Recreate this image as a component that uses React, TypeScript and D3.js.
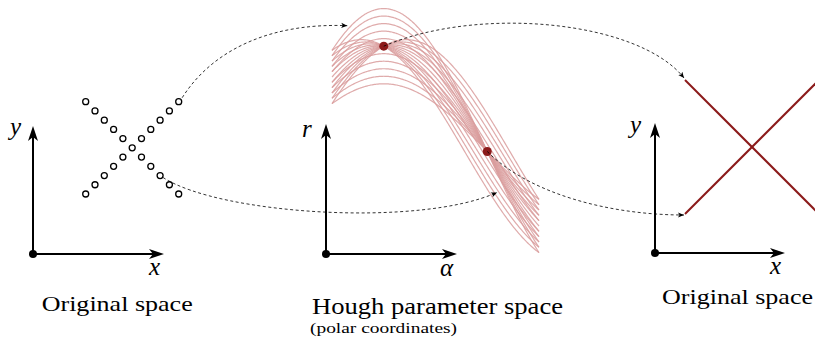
import * as d3 from 'd3'

// sample points in the original space: two crossing rows
const pointsX = [9, 10, 11, 12, 13, 14, 15, 16, 17, 18, 19, 9, 10, 11, 12, 13, 15, 16, 17, 18, 19]
const pointsY = [19, 18, 17, 16, 15, 14, 13, 12, 11, 10, 9, 9, 10, 11, 12, 13, 15, 16, 17, 18, 19]

// accumulator peaks found in Hough space (theta in degrees, r)
const peakTheta = [45, 135]
const peakR = [19.8, 0]

// theta samples for the sinusoids
const thetaSamples = d3.range(0, 181, 1)

const W = 815
const H = 341
const SERIF = 'Liberation Serif'
const DARK_RED = '#8b1a1a'

// scales
const xOrig = d3.scaleLinear().domain([9, 19]).range([85.7, 178.7])
const yOrig = d3.scaleLinear().domain([9, 19]).range([194, 101.7])
const thetaScale = d3.scaleLinear().domain([0, 180]).range([332, 539])
const rScale = d3.scaleLinear().domain([0, 20]).range([151.5, 45.1])
const xRight = d3.scaleLinear().domain([9, 19]).range([685, 819])
const yRight = d3.scaleLinear().domain([9, 19]).range([214, 80])

const rad = (deg: number) => (deg * Math.PI) / 180
const houghR = (x: number, y: number, deg: number) =>
    x * Math.cos(rad(deg)) + y * Math.sin(rad(deg))

function Axes({
    ox,
    oy,
    w,
    h,
    xLabel,
    yLabel,
    xl,
    yl,
}: {
    ox: number
    oy: number
    w: number
    h: number
    xLabel: string
    yLabel: string
    xl: [number, number]
    yl: [number, number]
}) {
    const head = 'M0,0 L-15,-5 L-11,0 L-15,5 Z'
    return (
        <g>
            <line x1={ox} y1={oy} x2={ox + w - 10} y2={oy} stroke="black" strokeWidth={2} />
            <line x1={ox} y1={oy} x2={ox} y2={oy - h + 10} stroke="black" strokeWidth={2} />
            <path d={head} transform={`translate(${ox + w},${oy})`} fill="black" />
            <path d={head} transform={`translate(${ox},${oy - h}) rotate(-90)`} fill="black" />
            <circle cx={ox} cy={oy} r={4} fill="black" />
            <text x={xl[0]} y={xl[1]} fontFamily={SERIF} fontStyle="italic" fontSize={25}>
                {xLabel}
            </text>
            <text x={yl[0]} y={yl[1]} fontFamily={SERIF} fontStyle="italic" fontSize={25}>
                {yLabel}
            </text>
        </g>
    )
}

export default function App() {
    const curve = d3
        .line<number>()
        .x((t) => thetaScale(t))
        .curve(d3.curveBasis)

    const dashed = {
        fill: 'none',
        stroke: 'black',
        strokeWidth: 0.8,
        strokeDasharray: '3,2.5',
        markerEnd: 'url(#tip)',
    }

    // arrow anchors taken from the data
    const a1s = [xOrig(19) + 3.5, yOrig(19) - 4]
    const a1e = [thetaScale(15) - 2, rScale(houghR(19, 19, 15)) - 2]
    const a3s = [xOrig(17) + 3, yOrig(11) + 2]
    const a3e = [thetaScale(143.5), rScale(houghR(17, 11, 143.5)) + 3]
    const p1 = [thetaScale(peakTheta[0]), rScale(peakR[0])]
    const p2 = [thetaScale(peakTheta[1]), rScale(peakR[1])]
    const lineY = (x: number, i: number) =>
        (peakR[i] - x * Math.cos(rad(peakTheta[i]))) / Math.sin(rad(peakTheta[i]))
    const r1s = [xRight(9) - 1, yRight(lineY(9, 0)) - 2]
    const r2s = [xRight(9) - 1, yRight(lineY(9, 1)) + 1]

    return (
        <svg
            width={W}
            height={H}
            style={{ position: 'absolute', left: 0, top: 0, background: 'white' }}
        >
            <defs>
                <marker
                    id="tip"
                    viewBox="-6 -3 7 6"
                    refX={0}
                    refY={0}
                    markerWidth={7}
                    markerHeight={6}
                    markerUnits="userSpaceOnUse"
                    orient="auto"
                >
                    <path d="M0,0 L-6,-2.6 L-4.5,0 L-6,2.6 Z" fill="black" />
                </marker>
            </defs>

            {/* left: original space */}
            <Axes ox={33} oy={254} w={164 - 33} h={254 - 126} xLabel="x" yLabel="y" xl={[149, 275]} yl={[10, 135]} />
            {pointsX.map((x, i) => (
                <circle
                    key={i}
                    cx={xOrig(x)}
                    cy={yOrig(pointsY[i])}
                    r={3}
                    fill="white"
                    stroke="black"
                    strokeWidth={1.3}
                />
            ))}

            {/* middle: Hough space */}
            <Axes ox={326} oy={254} w={457 - 326} h={254 - 124} xLabel="α" yLabel="r" xl={[440, 276]} yl={[302, 137]} />
            <g fill="none" stroke="#d99c9c" strokeWidth={1.2} strokeOpacity={0.85}>
                {pointsX.map((x, i) => (
                    <path
                        key={i}
                        d={curve.y((t) => rScale(houghR(x, pointsY[i], t)))(thetaSamples) ?? ''}
                    />
                ))}
            </g>
            {peakTheta.map((t, i) => (
                <circle key={i} cx={thetaScale(t)} cy={rScale(peakR[i])} r={4.5} fill={DARK_RED} />
            ))}

            {/* right: detected lines */}
            <Axes ox={655} oy={253} w={785 - 655} h={253 - 123} xLabel="x" yLabel="y" xl={[770, 274]} yl={[630, 133]} />
            {peakTheta.map((_, i) => (
                <line
                    key={i}
                    x1={xRight(9)}
                    y1={yRight(lineY(9, i))}
                    x2={xRight(19)}
                    y2={yRight(lineY(19, i))}
                    stroke={DARK_RED}
                    strokeWidth={2}
                />
            ))}

            {/* dashed connectors */}
            <path
                {...dashed}
                d={`M${a1s[0]},${a1s[1]} C${a1s[0] + 33},${a1s[1] - 52} ${a1e[0] - 70},${a1e[1] - 3} ${a1e[0]},${a1e[1]}`}
            />
            <path
                {...dashed}
                d={`M${a3s[0]},${a3s[1]} C${a3s[0] + 57},${a3s[1] + 37} ${a3e[0] - 77},${a3e[1] + 35} ${a3e[0]},${a3e[1]}`}
            />
            <path
                {...dashed}
                d={`M${p1[0]},${p1[1]} C${p1[0] + 96},${p1[1] - 41} ${r1s[0] - 45},${r1s[1] - 57} ${r1s[0]},${r1s[1]}`}
            />
            <path
                {...dashed}
                d={`M${p2[0]},${p2[1]} C${p2[0] + 43},${p2[1] + 43} ${r2s[0] - 73},${r2s[1]} ${r2s[0]},${r2s[1]}`}
            />

            {/* captions */}
            <text x={41.7} y={311} fontFamily={SERIF} fontSize={22} textLength={151} lengthAdjust="spacingAndGlyphs">
                Original space
            </text>
            <text x={312} y={314} fontFamily={SERIF} fontSize={23} textLength={251} lengthAdjust="spacingAndGlyphs">
                Hough parameter space
            </text>
            <text x={310} y={333} fontFamily={SERIF} fontSize={14.5} textLength={147} lengthAdjust="spacingAndGlyphs">
                (polar coordinates)
            </text>
            <text x={662} y={304} fontFamily={SERIF} fontSize={22} textLength={151} lengthAdjust="spacingAndGlyphs">
                Original space
            </text>
        </svg>
    )
}
